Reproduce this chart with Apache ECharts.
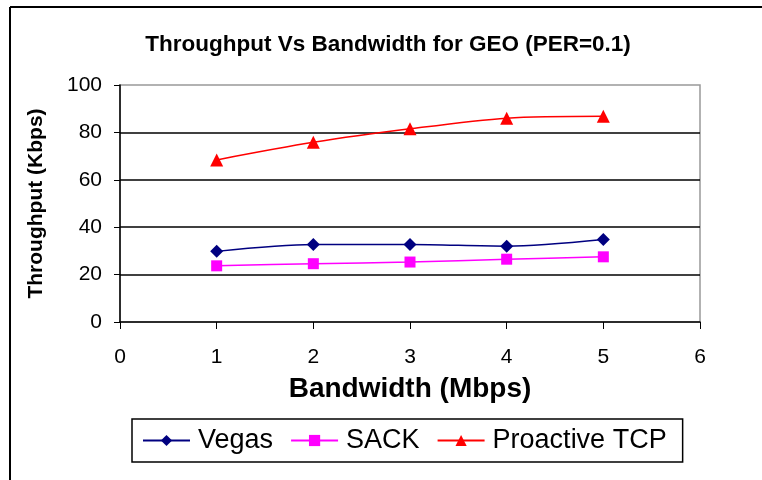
<!DOCTYPE html>
<html>
<head>
<meta charset="utf-8">
<script src="https://cdn.jsdelivr.net/npm/echarts@6/dist/echarts.min.js"></script>
<style>
html,body{margin:0;padding:0;background:#fff;}
#chart{width:762px;height:480px;}
</style>
</head>
<body>
<div id="chart"></div>
<script>
var bandwidth = [1, 2, 3, 4, 5];
var vegas = [29.8, 32.7, 32.7, 32.0, 34.8];
var sack = [23.7, 24.6, 25.3, 26.5, 27.5];
var proactive = [68.4, 75.8, 81.5, 86.0, 86.8];
var seriesNames = ['Vegas', 'SACK', 'Proactive TCP'];
var titleText = 'Throughput Vs Bandwidth for GEO (PER=0.1)';
var xName = 'Bandwidth (Mbps)';
var yName = 'Throughput (Kbps)';

function pairs(vals) { return bandwidth.map(function (b, i) { return [b, vals[i]]; }); }

var chart = echarts.init(document.getElementById('chart'), null, {renderer: 'canvas'});
var font = 'Liberation Sans, Arial, sans-serif';
chart.setOption({
  animation: false,
  backgroundColor: '#fff',
  textStyle: {fontFamily: font},
  graphic: [
    {type: 'line', shape: {x1: 10, y1: 7, x2: 762, y2: 7}, style: {stroke: '#000', lineWidth: 2}},
    {type: 'line', shape: {x1: 10, y1: 7, x2: 10, y2: 480}, style: {stroke: '#000', lineWidth: 2}}
  ],
  title: {
    text: titleText, left: 383, top: 28, textAlign: 'center',
    textStyle: {fontFamily: font, fontWeight: 'bold', fontSize: 22.5, color: '#000'}
  },
  grid: {left: 120, right: 62, top: 85, bottom: 158, show: true, borderColor: '#999', borderWidth: 1.5, containLabel: false},
  legend: {
    left: 132, top: 419, orient: 'horizontal',
    padding: [8, 16, 8, 10], itemGap: 17, itemWidth: 47, itemHeight: 14,
    borderColor: '#000', borderWidth: 1.5,
    textStyle: {fontFamily: font, fontSize: 27, color: '#000', padding: [0, 0, 0, 3]},
    data: seriesNames
  },
  xAxis: {
    type: 'value', min: 0, max: 6, interval: 1,
    name: xName, nameLocation: 'middle', nameGap: 53,
    nameTextStyle: {fontFamily: font, fontWeight: 'bold', fontSize: 28, color: '#000'},
    axisLine: {lineStyle: {color: '#000', width: 1.5}},
    axisTick: {show: true, length: 7, lineStyle: {color: '#000'}},
    axisLabel: {fontFamily: font, fontSize: 21, color: '#000', margin: 25},
    splitLine: {show: false}
  },
  yAxis: {
    type: 'value', min: 0, max: 100, interval: 20,
    name: yName, nameLocation: 'middle', nameGap: 73,
    nameTextStyle: {fontFamily: font, fontWeight: 'bold', fontSize: 21, color: '#000'},
    axisLine: {show: true, lineStyle: {color: '#000', width: 1.5}},
    axisTick: {show: true, length: 6, lineStyle: {color: '#000'}},
    axisLabel: {fontFamily: font, fontSize: 21, color: '#000', margin: 18},
    splitLine: {show: true, showMinLine: false, showMaxLine: false, lineStyle: {color: '#000', width: 1.5}}
  },
  series: [
    {name: seriesNames[0], type: 'line', data: pairs(vegas), smooth: 0.3,
     symbol: 'diamond', symbolSize: 13, color: '#000080',
     lineStyle: {width: 1.5, color: '#000080'}, itemStyle: {color: '#000080'}},
    {name: seriesNames[1], type: 'line', data: pairs(sack), smooth: 0.3,
     symbol: 'rect', symbolSize: 11, color: '#FF00FF',
     lineStyle: {width: 1.5, color: '#FF00FF'}, itemStyle: {color: '#FF00FF'}},
    {name: seriesNames[2], type: 'line', data: pairs(proactive), smooth: 0.3,
     symbol: 'triangle', symbolSize: 13, color: '#FF0000',
     lineStyle: {width: 1.5, color: '#FF0000'}, itemStyle: {color: '#FF0000'}}
  ]
});
</script>
</body>
</html>
